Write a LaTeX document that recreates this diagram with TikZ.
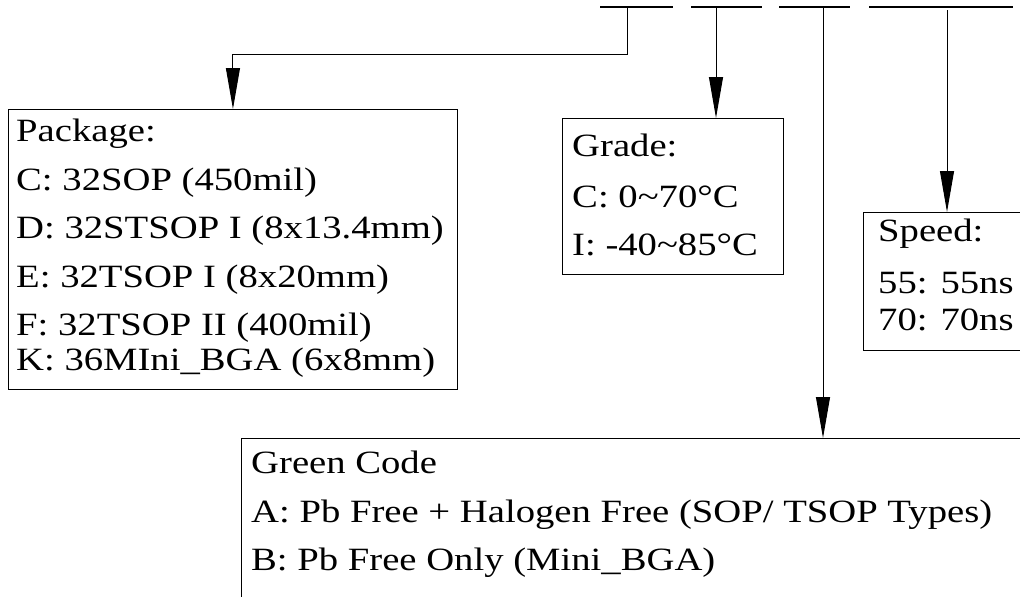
\documentclass[tikz,border=0pt]{standalone}
\usepackage{fontspec}
\usepackage{graphicx}
\setmainfont{Liberation Serif}
\usetikzlibrary{arrows.meta}
\newcommand{\sx}[1]{\scalebox{1.19}[1]{#1}}
\tikzset{
  box/.style={draw=black, line width=0.9pt, rectangle, inner sep=0pt, anchor=north west},
  txt/.style={anchor=base west, inner sep=0pt, font=\fontsize{32.5}{38}\selectfont},
  seg/.style={line width=1.6pt},
  conn/.style={line width=1pt},
  arr/.style={line width=1pt, -{Triangle[length=41pt,width=14pt]}}
}
\begin{document}
\begin{tikzpicture}[x=1pt,y=-1pt]
\clip (0,0) rectangle (1020,597);
\fill[white] (0,0) rectangle (1020,597);
% top field bars
\coordinate (s1a) at (600,7); \coordinate (s1b) at (673,7);
\coordinate (s2a) at (691,7); \coordinate (s2b) at (762,7);
\coordinate (s3a) at (779,7); \coordinate (s3b) at (850,7);
\coordinate (s4a) at (869,7); \coordinate (s4b) at (1013,7);
\draw[seg] (s1a) -- (s1b);
\draw[seg] (s2a) -- (s2b);
\draw[seg] (s3a) -- (s3b);
\draw[seg] (s4a) -- (s4b);
% boxes
\node[box, minimum width=449pt, minimum height=280pt] (pkg) at (8,109) {};
\node[box, minimum width=221pt, minimum height=156pt] (grade) at (562,118) {};
\node[box, minimum width=180pt, minimum height=138pt] (speed) at (863,212) {};
\node[box, minimum width=800pt, minimum height=200pt] (green) at (241,438) {};
% connector start points
\coordinate (t1) at (627,7);
\coordinate (b1) at (627,54);
\coordinate (t2) at (716,7);
\coordinate (t3) at (823,8);
\coordinate (t4) at (947,10);
\draw[arr] (t1) -- (b1) -| (pkg.north);
\draw[arr] (t2) -- (t2 |- grade.north);
\draw[arr] (t3) -- (t3 |- green.north);
\draw[arr] (t4) -- (t4 |- speed.north);
% package text
\node[txt] (p0) at (16,141) {\sx{Package:}};
\node[txt] (p1) at (16,190) {\sx{C: 32SOP (450mil)}};
\node[txt] (p2) at (16,238) {\sx{D: 32STSOP I (8x13.4mm)}};
\node[txt] (p3) at (16,287) {\sx{E: 32TSOP I (8x20mm)}};
\node[txt] (p4) at (16,335) {\sx{F: 32TSOP II (400mil)}};
\node[txt] (p5) at (16,370) {\sx{K: 36MIni\_BGA (6x8mm)}};
% grade text
\node[txt] (g0) at (572,156) {\sx{Grade:}};
\node[txt] (g1) at (572,207) {\sx{C: 0\textasciitilde 70°C}};
\node[txt] (g2) at (572,255) {\sx{I: -40\textasciitilde 85°C}};
% speed text
\node[txt] (v0) at (878,241) {\sx{Speed:}};
\node[txt] (v1) at (878,293) {\sx{55: 55ns}};
\node[txt] (v2) at (878,330) {\sx{70: 70ns}};
% green text
\node[txt] (c0) at (251,473) {\sx{Green Code}};
\node[txt] (c1) at (251,522) {\sx{A: Pb Free + Halogen Free (SOP/ TSOP Types)}};
\node[txt] (c2) at (251,570) {\sx{B: Pb Free Only (Mini\_BGA)}};
\end{tikzpicture}
\end{document}
